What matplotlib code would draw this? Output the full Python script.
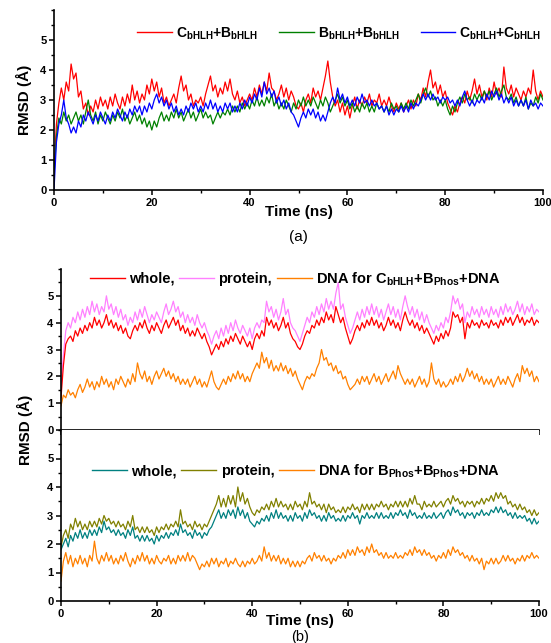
import numpy as np
import matplotlib
matplotlib.use("Agg")
import matplotlib.pyplot as plt
from matplotlib.ticker import MultipleLocator

plt.rcParams["font.family"] = ["Liberation Sans", "DejaVu Sans"]
plt.rcParams["font.weight"] = "bold"
plt.rcParams["axes.labelweight"] = "bold"
plt.rcParams["mathtext.fontset"] = "custom"
plt.rcParams["mathtext.rm"] = "Liberation Sans:bold"
plt.rcParams["mathtext.bf"] = "Liberation Sans:bold"

# RMSD (Angstrom) sampled every 0.5 ns over 0-100 ns
# (a) dimers
c_b = [0.6, 2.2, 2.9, 3.4, 3.0, 3.6, 3.3, 4.2, 3.7, 3.9, 3.1, 3.3, 2.7, 2.9, 2.5, 2.8, 2.6, 3.0, 2.7, 3.1,
       2.8, 3.0, 2.7, 3.1, 2.8, 3.2, 2.9, 2.7, 3.1, 2.8, 3.2, 2.9, 3.5, 3.0, 3.3, 2.9, 3.2, 3.0, 3.5, 3.2,
       3.7, 3.3, 3.6, 3.1, 3.4, 2.9, 3.1, 2.8, 3.0, 3.2, 2.9, 3.4, 3.8, 3.3, 3.5, 3.0, 3.2, 2.8, 3.0, 2.9,
       3.1, 2.8, 3.2, 3.5, 3.8, 3.3, 3.5, 3.1, 3.4, 3.2, 3.6, 3.3, 3.7, 3.2, 3.0, 3.3, 2.9, 3.1, 2.8, 3.0,
       3.2, 3.0, 3.4, 3.1, 3.5, 3.2, 3.6, 3.3, 3.9, 3.4, 3.3, 3.0, 3.2, 3.5, 3.1, 3.4, 3.0, 3.3, 3.1, 2.8,
       2.7, 2.9, 2.6, 3.0, 3.2, 2.9, 3.4, 3.1, 3.3, 3.0, 3.4, 3.8, 4.3, 3.6, 3.1, 2.8, 3.0, 2.6, 2.9, 2.5,
       2.8, 2.4, 2.8, 3.1, 2.7, 3.0, 2.8, 3.1, 2.9, 3.2, 2.8, 3.0, 2.9, 3.2, 2.8, 3.0, 2.8, 3.1, 2.8, 2.6,
       2.9, 2.7, 2.9, 2.6, 2.8, 3.0, 2.7, 3.0, 2.8, 3.2, 3.0, 3.4, 3.1, 3.6, 4.0, 3.4, 3.6, 3.2, 3.5, 3.1,
       3.3, 2.9, 2.7, 2.5, 2.8, 2.6, 2.9, 3.1, 2.9, 3.3, 3.0, 3.3, 3.7, 3.2, 3.5, 3.1, 3.3, 3.0, 3.4, 3.1,
       3.6, 3.2, 3.4, 3.1, 4.1, 3.4, 3.2, 3.5, 3.1, 3.4, 3.2, 3.0, 3.3, 3.1, 3.4, 3.2, 4.0, 3.3, 3.0, 3.3,
       3.1]
b_b = [0.5, 1.8, 2.4, 2.2, 2.6, 2.3, 2.5, 2.2, 2.4, 2.6, 2.3, 2.5, 2.2, 2.6, 3.0, 2.5, 2.3, 2.6, 2.2, 2.5,
       2.3, 2.6, 2.4, 2.2, 2.5, 2.3, 2.6, 2.4, 2.7, 2.3, 2.5, 2.2, 2.4, 2.6, 2.3, 2.5, 2.2, 2.4, 2.1, 2.3,
       2.0, 2.3, 2.1, 2.4, 2.6, 2.3, 2.5, 2.3, 2.6, 2.4, 2.7, 2.4, 2.6, 2.3, 2.5, 2.7, 2.4, 2.6, 2.3, 2.5,
       2.7, 2.4, 2.6, 2.4, 2.5, 2.2, 2.4, 2.6, 2.4, 2.6, 2.5, 2.7, 2.5, 2.8, 2.6, 2.8, 2.6, 2.9, 2.7, 2.9,
       2.7, 3.0, 2.8, 3.1, 2.8, 3.0, 2.8, 3.1, 2.9, 3.2, 2.8, 3.0, 2.7, 2.9, 2.7, 3.0, 2.8, 2.6, 2.9, 2.7,
       3.0, 2.8, 3.1, 2.8, 3.0, 2.8, 3.1, 2.9, 2.7, 3.0, 2.8, 3.1, 2.9, 2.6, 2.8, 3.0, 3.2, 2.9, 3.1, 2.8,
       3.0, 2.7, 2.9, 2.6, 2.8, 2.6, 2.9, 2.7, 2.9, 2.6, 2.8, 2.6, 2.9, 2.7, 2.8, 2.6, 2.8, 2.6, 2.9, 2.7,
       2.8, 2.6, 2.9, 2.7, 2.9, 2.7, 3.0, 2.8, 3.0, 3.2, 2.9, 3.2, 3.4, 3.1, 3.3, 3.0, 3.1, 2.8, 3.0, 2.8,
       3.0, 2.7, 2.5, 2.8, 2.6, 2.9, 3.1, 2.9, 3.2, 3.0, 3.1, 2.9, 3.2, 3.0, 3.2, 3.0, 3.3, 3.1, 3.3, 3.0,
       3.2, 3.4, 3.1, 3.3, 3.5, 3.1, 3.0, 3.2, 2.9, 3.1, 2.8, 3.0, 2.8, 3.1, 2.7, 2.9, 2.8, 3.1, 2.9, 3.2,
       3.0]
c_c = [0.0, 1.6, 2.2, 2.5, 3.0, 2.4, 2.2, 1.9, 2.1, 1.9, 2.3, 2.1, 2.5, 2.3, 2.6, 2.4, 2.2, 2.5, 2.3, 2.6,
       2.4, 2.2, 2.5, 2.3, 2.6, 2.4, 2.7, 2.5, 2.3, 2.6, 2.4, 2.7, 2.5, 2.8, 2.6, 2.8, 2.5, 2.8, 2.6, 2.9,
       2.7, 3.0, 3.2, 2.9, 3.1, 2.8, 3.0, 2.7, 2.9, 2.6, 2.8, 2.5, 2.7, 2.5, 2.8, 2.6, 2.9, 2.7, 2.9, 2.6,
       2.8, 2.6, 2.9, 2.7, 3.0, 2.7, 2.9, 2.6, 2.8, 2.6, 2.9, 2.7, 2.9, 2.6, 2.8, 2.6, 2.9, 2.7, 3.0, 2.8,
       3.1, 2.9, 3.2, 3.0, 3.4, 3.1, 3.6, 3.2, 3.4, 3.1, 3.3, 2.9, 3.1, 2.8, 3.0, 2.7, 2.9, 2.6, 2.5, 2.3,
       2.1, 2.4, 2.6, 2.4, 2.7, 2.5, 2.7, 2.4, 2.6, 2.3, 2.5, 2.3, 2.6, 2.9, 3.1, 2.9, 3.4, 3.0, 3.2, 2.9,
       3.1, 2.8, 3.0, 2.8, 3.1, 2.9, 3.2, 2.9, 3.0, 2.8, 3.0, 2.8, 2.9, 2.7, 2.8, 2.6, 2.8, 2.5, 2.7, 2.5,
       2.7, 2.6, 2.8, 2.6, 2.8, 2.6, 2.9, 2.7, 2.9, 2.8, 3.0, 3.2, 3.0, 3.2, 3.0, 3.2, 3.0, 3.1, 2.9, 3.1,
       3.0, 3.1, 2.9, 3.0, 2.8, 3.0, 2.8, 3.1, 3.3, 3.0, 2.8, 3.0, 2.8, 3.0, 2.9, 3.1, 2.9, 3.2, 3.0, 3.3,
       3.1, 3.3, 3.0, 3.2, 2.9, 3.1, 2.9, 3.1, 2.8, 3.0, 2.8, 3.0, 2.8, 3.0, 2.7, 3.0, 2.8, 2.9, 2.7, 2.9,
       2.8]

# (b) C_bHLH + B_Phos + DNA
cb_whole = [1.2, 2.4, 3.2, 3.4, 3.5, 3.3, 3.7, 3.5, 3.8, 3.6, 3.9, 3.7, 4.0, 3.8, 4.2, 3.9, 4.1, 3.8, 4.0, 4.3,
            3.9, 4.1, 3.8, 4.0, 3.7, 3.9, 3.6, 3.8, 3.5, 3.4, 3.7, 3.9, 3.7, 4.0, 3.8, 4.1, 3.8, 3.6, 3.9, 3.7,
            4.0, 3.8, 3.6, 3.9, 4.1, 3.8, 4.0, 4.2, 3.9, 4.1, 3.7, 3.9, 3.6, 3.8, 3.5, 3.7, 3.5, 3.8, 3.6, 3.4,
            3.6, 3.3, 3.1, 2.8, 3.0, 3.2, 3.0, 3.3, 3.1, 3.4, 3.2, 3.5, 3.3, 3.6, 3.4, 3.2, 3.5, 3.3, 3.1, 3.3,
            3.0, 3.4, 3.6, 3.4, 3.7, 3.5, 4.2, 3.9, 4.1, 3.8, 4.0, 3.7, 3.9, 4.2, 3.8, 4.0, 3.6, 3.4, 3.3, 3.1,
            3.0, 3.2, 3.5, 3.7, 3.6, 3.9, 3.8, 4.1, 3.9, 4.2, 4.0, 4.4, 4.1, 4.3, 4.0, 4.6, 4.3, 4.0, 4.2, 3.8,
            3.5, 3.2, 3.4, 3.7, 3.9, 3.7, 4.0, 3.8, 4.1, 3.9, 4.2, 3.9, 4.1, 3.8, 4.0, 3.7, 3.9, 4.2, 3.9, 4.1,
            3.8, 4.0, 3.7, 4.1, 4.4, 4.1, 3.9, 4.1, 3.8, 4.0, 3.7, 3.9, 3.6, 3.8, 3.6, 3.4, 3.2, 3.5, 3.3, 3.6,
            3.4, 3.7, 3.5, 3.8, 4.4, 4.2, 4.3, 4.0, 4.2, 3.4, 4.0, 3.8, 4.1, 3.9, 4.0, 3.8, 4.1, 3.9, 4.0, 3.8,
            4.1, 3.9, 4.0, 3.8, 4.1, 3.9, 4.2, 4.0, 4.2, 3.9, 4.1, 4.3, 4.0, 4.2, 3.9, 4.1, 4.0, 4.2, 3.9, 4.1,
            4.0]
cb_protein = [1.6, 2.8, 3.7, 4.0, 3.8, 4.2, 4.0, 4.4, 4.1, 4.5, 4.2, 4.6, 4.3, 4.8, 4.4, 4.7, 4.3, 4.6, 4.4, 5.0,
              4.5, 4.7, 4.3, 4.6, 4.2, 4.5, 4.1, 4.3, 3.9, 4.2, 4.0, 4.4, 4.1, 4.5, 4.2, 4.6, 4.3, 4.0, 4.3, 4.1,
              4.4, 4.2, 4.0, 4.4, 4.7, 4.3, 4.5, 4.8, 4.4, 4.6, 4.2, 4.4, 4.0, 4.3, 4.0, 4.2, 3.9, 4.3, 4.0, 3.8,
              4.0, 3.7, 3.5, 3.2, 3.5, 3.7, 3.4, 3.8, 3.5, 3.9, 3.6, 4.0, 3.7, 4.1, 3.8, 3.6, 3.9, 3.7, 3.5, 3.8,
              3.4, 3.8, 4.0, 3.8, 4.1, 4.0, 4.8, 4.4, 4.6, 4.2, 4.5, 4.1, 4.4, 4.9, 4.3, 4.5, 4.0, 3.8, 3.7, 3.5,
              3.3, 3.6, 3.9, 4.2, 4.0, 4.4, 4.2, 4.6, 4.3, 4.7, 4.4, 4.9, 4.5, 4.8, 4.5, 5.1, 5.5, 4.5, 4.7, 4.2,
              3.9, 3.6, 3.8, 4.1, 4.4, 4.1, 4.5, 4.2, 4.6, 4.3, 4.7, 4.3, 4.6, 4.2, 4.5, 4.1, 4.4, 4.7, 4.3, 4.6,
              4.2, 4.5, 4.1, 4.6, 5.0, 4.6, 4.3, 4.6, 4.2, 4.5, 4.1, 4.4, 4.0, 4.3, 4.0, 3.8, 3.6, 3.9, 3.7, 4.0,
              3.8, 4.2, 4.0, 4.4, 5.0, 4.7, 4.9, 4.5, 4.7, 4.0, 4.4, 4.2, 4.6, 4.3, 4.5, 4.2, 4.6, 4.3, 4.5, 4.2,
              4.6, 4.3, 4.5, 4.2, 4.6, 4.3, 4.7, 4.4, 4.6, 4.3, 4.5, 4.8, 4.4, 4.7, 4.3, 4.6, 4.4, 4.7, 4.3, 4.5,
              4.4]
cb_dna = [0.9, 1.3, 1.2, 1.5, 1.3, 1.4, 1.2, 1.5, 1.7, 1.4, 1.6, 1.9, 1.6, 1.8, 1.5, 1.8, 1.6, 2.0, 1.7, 1.9,
          1.6, 1.8, 1.5, 1.9, 1.7, 2.0, 1.8, 1.6, 1.9, 1.7, 2.1, 1.8, 2.5, 2.1, 1.9, 2.2, 1.8, 2.0, 1.7, 2.0,
          2.2, 1.9, 2.1, 2.3, 2.0, 2.2, 1.9, 2.1, 1.8, 2.0, 1.7, 1.9, 1.7, 1.9, 1.6, 1.8, 2.0, 1.7, 1.9, 1.6,
          1.8, 1.6, 1.9, 2.2, 1.8, 1.6, 1.5, 1.7, 1.9, 1.7, 2.0, 1.8, 2.1, 1.9, 2.2, 1.9, 2.1, 1.8, 2.0, 1.8,
          2.1, 2.3, 2.5, 2.3, 2.9, 2.5, 2.7, 2.3, 2.6, 2.2, 2.4, 2.2, 2.5, 2.2, 2.4, 2.1, 2.3, 2.0, 2.2, 1.9,
          1.7, 1.5, 1.8, 2.0, 1.9, 2.1, 2.0, 2.3, 2.5, 3.0, 2.6, 2.7, 2.4, 2.5, 2.2, 2.4, 2.1, 2.2, 1.9, 2.0,
          1.7, 1.5, 1.6, 1.7, 1.9, 1.7, 2.0, 1.8, 2.0, 1.7, 1.9, 2.1, 1.8, 2.0, 1.7, 1.9, 2.1, 1.8, 2.0, 2.2,
          1.9, 2.4, 2.1, 1.9, 1.7, 1.9, 1.7, 1.9, 1.6, 1.8, 2.0, 1.7, 1.9, 1.6, 1.8, 2.5, 1.9, 1.7, 1.9, 1.6,
          1.8, 1.6, 1.7, 1.9, 1.7, 2.0, 1.8, 2.1, 1.8, 2.0, 2.3, 2.0, 2.2, 1.9, 2.1, 1.8, 2.0, 1.7, 1.9, 1.7,
          1.9, 1.6, 1.8, 2.0, 1.7, 1.9, 1.7, 2.0, 1.8, 1.6, 1.9, 2.1, 1.8, 2.4, 2.1, 2.3, 2.0, 2.2, 1.8, 2.0,
          1.8]

# (b) B_Phos + B_Phos + DNA
bb_whole = [1.8, 2.0, 2.2, 1.9, 2.3, 2.1, 2.4, 2.2, 2.5, 2.2, 2.4, 2.2, 2.5, 2.3, 2.5, 2.3, 2.6, 2.4, 2.8, 2.5,
            2.6, 2.4, 2.5, 2.3, 2.5, 2.3, 2.4, 2.2, 2.5, 2.3, 2.6, 2.2, 2.3, 2.1, 2.3, 2.1, 2.3, 2.1, 2.2, 2.0,
            2.3, 2.1, 2.3, 2.2, 2.4, 2.2, 2.4, 2.3, 2.5, 2.3, 2.7, 2.4, 2.5, 2.3, 2.4, 2.2, 2.5, 2.3, 2.4, 2.2,
            2.4, 2.3, 2.5, 2.6, 2.8, 3.0, 3.2, 2.9, 3.1, 2.9, 3.2, 3.0, 3.2, 2.9, 3.3, 3.0, 3.2, 2.9, 3.1, 2.8,
            2.7, 2.6, 2.8, 2.7, 2.9, 2.8, 3.0, 2.8, 3.1, 2.9, 3.2, 2.9, 3.1, 2.9, 3.0, 2.8, 3.0, 2.8, 3.1, 2.9,
            3.0, 2.8, 3.1, 2.9, 3.2, 3.0, 3.1, 2.9, 3.0, 2.8, 3.0, 2.8, 3.1, 2.9, 3.0, 2.8, 2.9, 2.8, 3.0, 2.8,
            3.0, 2.9, 3.1, 2.9, 3.0, 2.7, 3.0, 2.9, 3.1, 2.9, 3.0, 2.9, 3.1, 2.9, 3.1, 2.9, 3.0, 2.9, 3.1, 2.9,
            3.1, 3.0, 3.2, 3.0, 3.1, 2.9, 3.2, 3.0, 3.1, 2.9, 3.0, 2.9, 3.1, 2.9, 3.0, 2.9, 3.1, 2.9, 3.0, 3.1,
            2.9, 3.1, 3.2, 3.0, 3.3, 3.1, 3.2, 3.0, 3.1, 2.9, 3.1, 3.0, 3.1, 2.9, 3.1, 3.0, 3.2, 3.0, 3.1, 3.0,
            3.2, 3.1, 3.3, 3.1, 3.3, 3.1, 3.2, 3.0, 3.1, 2.9, 3.1, 2.9, 3.0, 2.9, 3.0, 2.8, 2.9, 2.7, 2.9, 2.7,
            2.8]
bb_protein = [1.9, 2.3, 2.5, 2.2, 2.7, 2.5, 2.9, 2.6, 2.8, 2.5, 2.7, 2.5, 2.8, 2.6, 2.8, 2.6, 2.9, 2.7, 3.0, 2.8,
              2.9, 2.7, 2.8, 2.6, 2.8, 2.6, 2.7, 2.5, 2.8, 2.6, 3.0, 2.5, 2.6, 2.4, 2.6, 2.4, 2.6, 2.4, 2.5, 2.3,
              2.6, 2.4, 2.6, 2.5, 2.7, 2.5, 2.7, 2.6, 2.8, 2.6, 3.2, 2.7, 2.8, 2.6, 2.7, 2.5, 2.8, 2.6, 2.7, 2.5,
              2.7, 2.6, 2.8, 3.0, 3.2, 3.4, 3.7, 3.3, 3.6, 3.3, 3.7, 3.4, 3.7, 3.3, 4.0, 3.5, 3.8, 3.4, 3.6, 3.3,
              3.1, 3.0, 3.2, 3.1, 3.3, 3.2, 3.4, 3.2, 3.5, 3.3, 3.6, 3.3, 3.5, 3.3, 3.4, 3.2, 3.4, 3.2, 3.5, 3.3,
              3.4, 3.2, 3.5, 3.3, 3.8, 3.4, 3.5, 3.3, 3.4, 3.2, 3.4, 3.1, 3.4, 3.2, 3.3, 3.1, 3.2, 3.1, 3.3, 3.1,
              3.3, 3.2, 3.4, 3.2, 3.3, 3.1, 3.4, 3.2, 3.4, 3.2, 3.4, 3.2, 3.4, 3.3, 3.5, 3.3, 3.4, 3.2, 3.4, 3.3,
              3.5, 3.3, 3.5, 3.3, 3.5, 3.3, 3.6, 3.4, 3.7, 3.4, 3.4, 3.2, 3.5, 3.3, 3.4, 3.3, 3.5, 3.3, 3.4, 3.5,
              3.3, 3.5, 3.6, 3.4, 3.7, 3.5, 3.6, 3.4, 3.5, 3.3, 3.5, 3.4, 3.5, 3.3, 3.5, 3.4, 3.6, 3.4, 3.6, 3.5,
              3.7, 3.5, 3.8, 3.6, 3.8, 3.6, 3.7, 3.4, 3.5, 3.3, 3.4, 3.2, 3.4, 3.2, 3.3, 3.1, 3.2, 3.0, 3.2, 3.0,
              3.1]
bb_dna = [0.7, 1.4, 1.7, 1.3, 1.6, 1.2, 1.5, 1.3, 1.6, 1.3, 1.5, 1.2, 1.6, 1.4, 2.1, 1.5, 1.3, 1.6, 1.4, 1.7,
          1.4, 1.6, 1.3, 1.5, 1.3, 1.6, 1.4, 1.7, 1.4, 1.2, 1.5, 1.3, 1.6, 1.4, 1.7, 1.4, 1.6, 1.3, 1.5, 1.3,
          1.6, 1.4, 1.3, 1.5, 1.4, 1.6, 1.3, 1.5, 1.3, 1.6, 1.4, 1.6, 1.4, 1.7, 1.4, 1.6, 1.5, 1.3, 1.1, 1.3,
          1.2, 1.4, 1.2, 1.5, 1.3, 1.5, 1.2, 1.4, 1.3, 1.5, 1.2, 1.4, 1.3, 1.5, 1.3, 1.2, 1.4, 1.2, 1.4, 1.3,
          1.5, 1.3, 1.4, 1.6, 1.4, 1.9, 1.5, 1.7, 1.4, 1.6, 1.4, 1.6, 1.3, 1.5, 1.3, 1.5, 1.2, 1.4, 1.2, 1.4,
          1.2, 1.4, 1.3, 1.5, 1.6, 1.4, 1.7, 1.5, 1.6, 1.4, 1.6, 1.4, 1.5, 1.3, 1.5, 1.4, 1.6, 1.5, 1.7, 1.5,
          1.8, 1.6, 1.8, 1.6, 1.9, 1.7, 1.8, 1.6, 1.9, 1.7, 2.0, 1.7, 1.8, 1.6, 1.7, 1.5, 1.7, 1.5, 1.6, 1.5,
          1.7, 1.5, 1.6, 1.5, 1.7, 1.6, 1.8, 1.6, 1.9, 1.7, 1.8, 1.6, 1.8, 1.6, 1.7, 1.5, 1.6, 1.4, 1.6, 1.5,
          1.7, 1.5, 1.8, 1.6, 1.9, 1.7, 1.8, 1.6, 1.7, 1.5, 1.6, 1.4, 1.6, 1.4, 1.5, 1.3, 1.5, 1.1, 1.4, 1.3,
          1.5, 1.3, 1.5, 1.3, 1.4, 1.6, 1.4, 1.6, 1.4, 1.5, 1.3, 1.5, 1.4, 1.6, 1.4, 1.6, 1.5, 1.7, 1.5, 1.6,
          1.5]

labels_a = [r"C$_{\mathbf{bHLH}}$+B$_{\mathbf{bHLH}}$",
            r"B$_{\mathbf{bHLH}}$+B$_{\mathbf{bHLH}}$",
            r"C$_{\mathbf{bHLH}}$+C$_{\mathbf{bHLH}}$"]
labels_b1 = ["whole,", "protein,", r"DNA for C$_{\mathbf{bHLH}}$+B$_{\mathbf{Phos}}$+DNA"]
labels_b2 = ["whole,", "protein,", r"DNA for B$_{\mathbf{Phos}}$+B$_{\mathbf{Phos}}$+DNA"]

LW = 0.9


def time_of(values):
    return np.linspace(0, 100, len(values))


def style_axis(ax):
    ax.set_xlim(0, 100)
    ax.set_ylim(0, 6)
    ax.spines["top"].set_visible(False)
    ax.spines["right"].set_visible(False)
    ax.spines["left"].set_linewidth(1.2)
    ax.spines["bottom"].set_linewidth(1.2)
    ax.xaxis.set_major_locator(MultipleLocator(20))
    ax.xaxis.set_minor_locator(MultipleLocator(10))
    ax.set_yticks(range(6))
    ax.yaxis.set_minor_locator(MultipleLocator(0.5))
    ax.tick_params(which="major", direction="out", length=3.5, width=1.1, labelsize=8, pad=2)
    ax.tick_params(which="minor", direction="out", length=2, width=1)


def add_legend(ax, handles, labels, x, y, size, handlelen, colspace):
    leg = ax.legend(handles, labels, ncol=3, loc="center left", bbox_to_anchor=(x, y),
                    frameon=False, handlelength=handlelen, handletextpad=0.3,
                    columnspacing=colspace, borderpad=0, borderaxespad=0,
                    prop={"size": size, "weight": "bold"})
    for line in leg.get_lines():
        line.set_linewidth(1.0)
    return leg


W, H = 551, 643
fig = plt.figure(figsize=(W / 100, H / 100), dpi=100)

# panel (a)
ax_a = fig.add_axes([54 / W, (H - 190) / H, (543 - 54) / W, 180 / H])
la1, = ax_a.plot(time_of(c_b), c_b, color="#ff0000", lw=LW)
la2, = ax_a.plot(time_of(b_b), b_b, color="#008000", lw=LW)
la3, = ax_a.plot(time_of(c_c), c_c, color="#0000ff", lw=LW)
style_axis(ax_a)
ax_a.set_ylabel("RMSD (Å)", fontsize=11, fontweight="bold", labelpad=6)
add_legend(ax_a, [la1, la2, la3], labels_a, 0.17, 0.87, 10, 2.5, 1.5)
fig.text((54 + 543) / 2 / W, (H - 212) / H, "Time (ns)", ha="center", va="center", fontsize=11)
fig.text((54 + 543) / 2 / W, (H - 237) / H, "(a)", ha="center", va="center", fontsize=11,
         fontweight="normal")

# panel (b), upper
ax_b1 = fig.add_axes([61 / W, (H - 430) / H, (539 - 61) / W, 161 / H])
lp, = ax_b1.plot(time_of(cb_protein), cb_protein, color="#ff80ff", lw=LW)
lw_, = ax_b1.plot(time_of(cb_whole), cb_whole, color="#ff0000", lw=LW)
ld, = ax_b1.plot(time_of(cb_dna), cb_dna, color="#ff8000", lw=LW)
style_axis(ax_b1)
ax_b1.tick_params(axis="x", labelbottom=False)
add_legend(ax_b1, [lw_, lp, ld], labels_b1, 0.06, 0.94, 10.5, 2.4, 0.3)

# panel (b), lower
ax_b2 = fig.add_axes([61 / W, (H - 601) / H, (539 - 61) / W, 171 / H])
mp, = ax_b2.plot(time_of(bb_protein), bb_protein, color="#808000", lw=LW)
mw, = ax_b2.plot(time_of(bb_whole), bb_whole, color="#008080", lw=LW)
md, = ax_b2.plot(time_of(bb_dna), bb_dna, color="#ff8000", lw=LW)
style_axis(ax_b2)
add_legend(ax_b2, [mw, mp, md], labels_b2, 0.065, 0.76, 10.5, 2.4, 0.3)

fig.text(25 / W, (H - 430) / H, "RMSD (Å)", rotation=90, ha="center", va="center", fontsize=11)
fig.text(300 / W, (H - 621) / H, "Time (ns)", ha="center", va="center", fontsize=11)
fig.text(300 / W, (H - 636.5) / H, "(b)", ha="center", va="center", fontsize=10.5,
         fontweight="normal")

fig.savefig("out.png", dpi=100)
